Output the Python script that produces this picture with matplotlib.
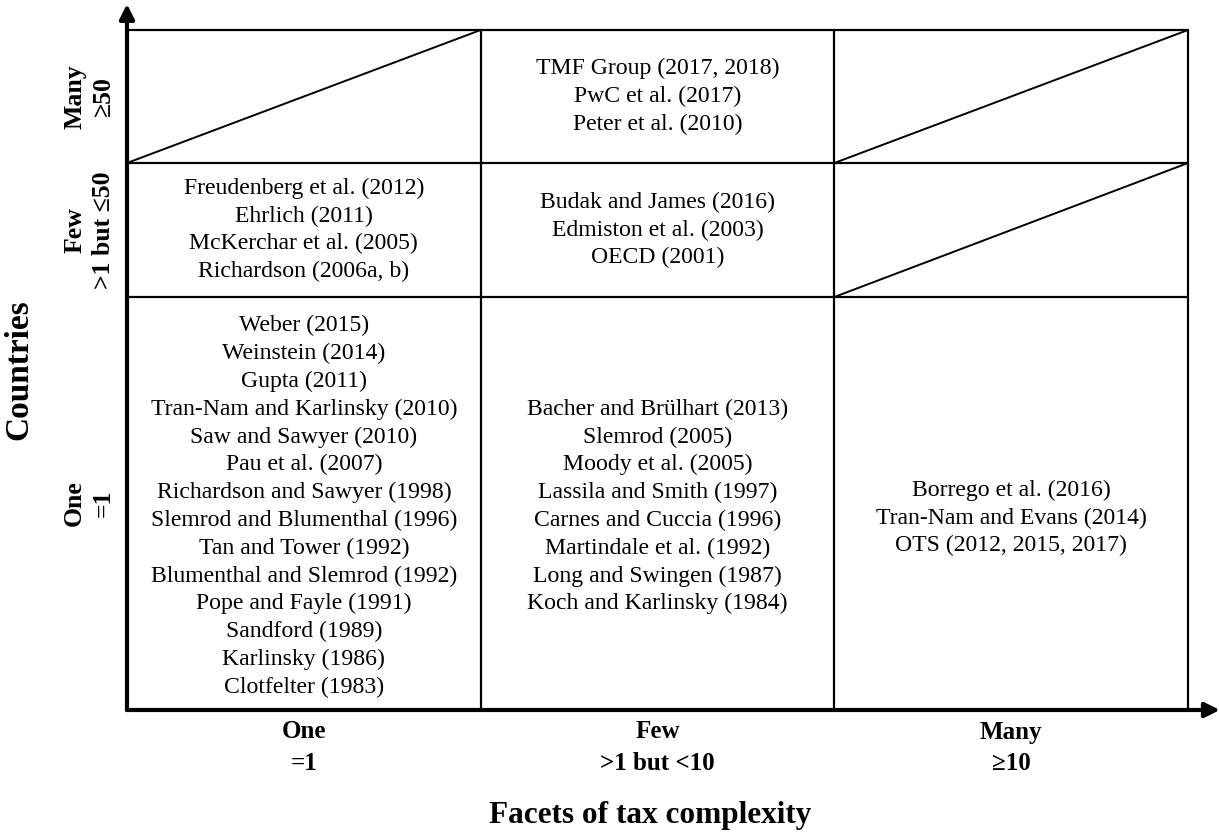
import matplotlib.pyplot as plt

plt.rcParams['font.family'] = ['Liberation Serif', 'DejaVu Serif']

# axis categories
x_labels = ['One\n=1', 'Few\n>1 but <10', 'Many\n≥10']
y_labels = ['One\n=1', 'Few\n>1 but ≤50', 'Many\n≥50']
x_title = 'Facets of tax complexity'
y_title = 'Countries'

# studies in each cell (column = facets, row = countries)
one_facet_one_country = ['Weber (2015)', 'Weinstein (2014)', 'Gupta (2011)',
                         'Tran-Nam and Karlinsky (2010)', 'Saw and Sawyer (2010)',
                         'Pau et al. (2007)', 'Richardson and Sawyer (1998)',
                         'Slemrod and Blumenthal (1996)', 'Tan and Tower (1992)',
                         'Blumenthal and Slemrod (1992)', 'Pope and Fayle (1991)',
                         'Sandford (1989)', 'Karlinsky (1986)', 'Clotfelter (1983)']
few_facets_one_country = ['Bacher and Brülhart (2013)', 'Slemrod (2005)',
                          'Moody et al. (2005)', 'Lassila and Smith (1997)',
                          'Carnes and Cuccia (1996)', 'Martindale et al. (1992)',
                          'Long and Swingen (1987)', 'Koch and Karlinsky (1984)']
many_facets_one_country = ['Borrego et al. (2016)', 'Tran-Nam and Evans (2014)',
                           'OTS (2012, 2015, 2017)']
one_facet_few_countries = ['Freudenberg et al. (2012)', 'Ehrlich (2011)',
                           'McKerchar et al. (2005)', 'Richardson (2006a, b)']
few_facets_few_countries = ['Budak and James (2016)', 'Edmiston et al. (2003)',
                            'OECD (2001)']
few_facets_many_countries = ['TMF Group (2017, 2018)', 'PwC et al. (2017)',
                             'Peter et al. (2010)']

cells = {
    (0, 0): one_facet_one_country,
    (1, 0): few_facets_one_country,
    (2, 0): many_facets_one_country,
    (0, 1): one_facet_few_countries,
    (1, 1): few_facets_few_countries,
    (1, 2): few_facets_many_countries,
}
empty_cells = [(0, 2), (2, 2), (2, 1)]

# row boundaries (bottom -> top), rows are not equally tall
row_edges = [0, 413, 547, 680]

fig = plt.figure(figsize=(12.19, 8.32), dpi=100)
ax = fig.add_axes([127 / 1219, 122 / 832, 1061 / 1219, 680 / 832])
ax.set_xlim(0, 3)
ax.set_ylim(0, row_edges[-1])
ax.axis('off')

# grid
ax.vlines([1, 2, 3], 0, row_edges[-1], color='black', lw=1.6, clip_on=False)
ax.hlines(row_edges[1:], 0, 3, color='black', lw=1.6, clip_on=False)

# diagonals in empty cells
for c, r in empty_cells:
    ax.plot([c, c + 1], [row_edges[r], row_edges[r + 1]], color='black', lw=1.4,
            clip_on=False)

# axes with arrows
ax.annotate('', xy=(0, 706), xytext=(0, 0), annotation_clip=False,
            arrowprops=dict(arrowstyle='-|>', lw=3, color='black', mutation_scale=22,
                            shrinkA=0, shrinkB=0))
ax.annotate('', xy=(3.09, 0), xytext=(0, 0), annotation_clip=False,
            arrowprops=dict(arrowstyle='-|>', lw=3, color='black', mutation_scale=22,
                            shrinkA=0, shrinkB=0))

# cell text
for (c, r), names in cells.items():
    yc = (row_edges[r] + row_edges[r + 1]) / 2
    if (c, r) == (2, 0):
        yc = 192
    elif r == 0:
        yc -= 3
    ax.text(c + 0.5, yc, '\n'.join(names), ha='center', va='center',
            fontsize=17.1, linespacing=1.41)

# category labels
for i, lab in enumerate(x_labels):
    ax.text(i + 0.5, -38, lab, ha='center', va='center', fontsize=18,
            fontweight='bold', linespacing=1.5, clip_on=False)
for r, lab in enumerate(y_labels):
    yc = (row_edges[r] + row_edges[r + 1]) / 2
    ax.text(-0.108, yc, lab, ha='center', va='center', rotation=90, fontsize=18.5,
            fontweight='bold', linespacing=1.3, clip_on=False)

ax.text(1.48, -105, x_title, ha='center', va='center', fontsize=22.5,
        fontweight='bold', clip_on=False)
ax.text(-0.305, 340, y_title, ha='center', va='center', rotation=90, fontsize=24,
        fontweight='bold', clip_on=False)

fig.savefig('out.png', dpi=100)
